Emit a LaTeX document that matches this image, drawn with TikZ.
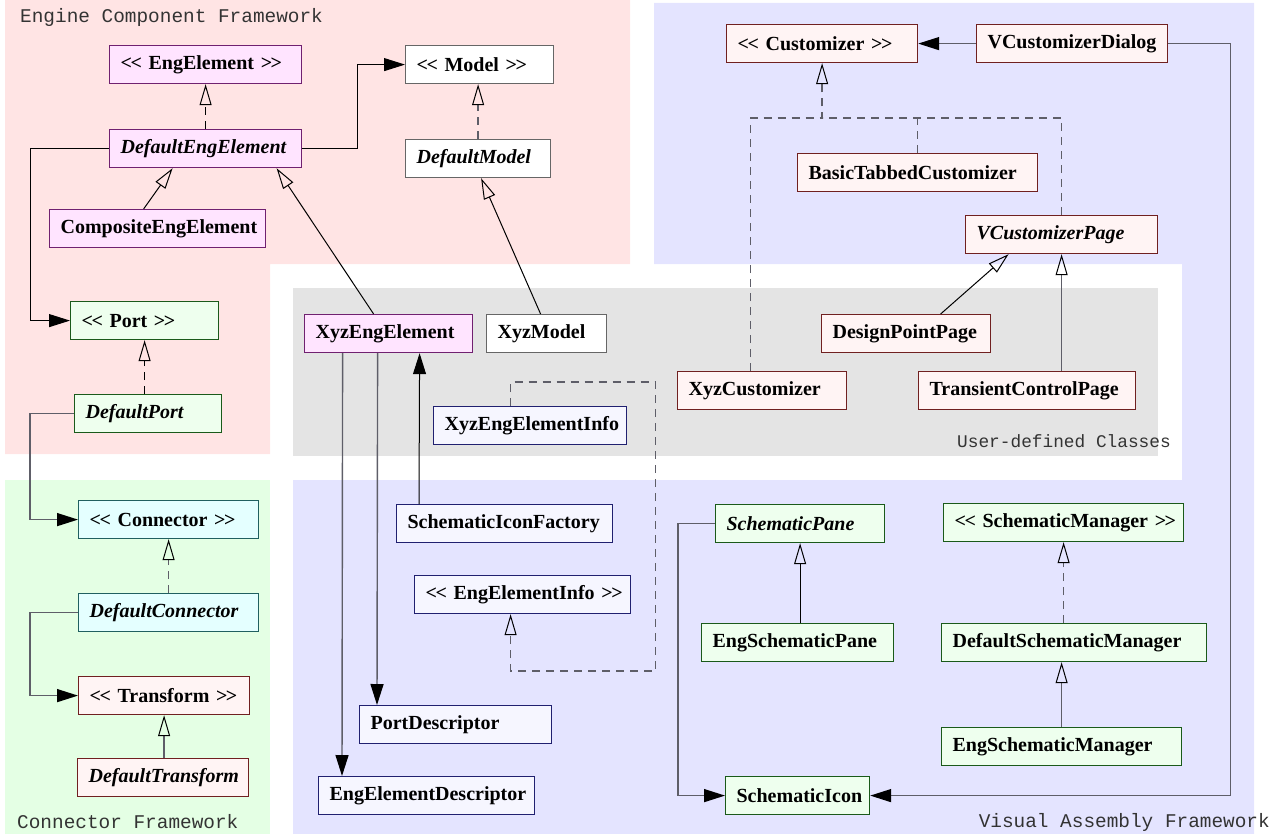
\documentclass[tikz,border=0pt]{standalone}
\usepackage{fontspec}
\setmainfont{Liberation Serif}
\setmonofont{Liberation Mono}
\usetikzlibrary{arrows.meta}

\definecolor{pinkbg}{HTML}{FFE4E4}
\definecolor{bluebg}{HTML}{E4E4FF}
\definecolor{greenbg}{HTML}{E4FFE4}
\definecolor{graybg}{HTML}{E4E4E4}
\definecolor{purpfill}{HTML}{FFE4FF}
\definecolor{purpline}{HTML}{702070}
\definecolor{grnfill}{HTML}{EEFFEE}
\definecolor{grnline}{HTML}{1A5A1A}
\definecolor{cyanfill}{HTML}{E4FFFF}
\definecolor{cyanline}{HTML}{206060}
\definecolor{redfill}{HTML}{FFF4F4}
\definecolor{redline}{HTML}{702020}
\definecolor{navyfill}{HTML}{F6F6FF}
\definecolor{navyline}{HTML}{202070}
\definecolor{linkcol}{HTML}{5E5E68}

% stereotype brackets, kept apart so they do not turn into guillemets
\newcommand{\stereo}[1]{\mbox{<\kern-1.5pt<\ #1\ >\kern-1.5pt>}}

\tikzset{
  cls/.style={draw, anchor=north west, minimum height=38pt, inner xsep=11pt, inner ysep=0pt,
    line width=1.2pt, align=left, font=\bfseries\fontsize{20}{22}\selectfont},
  abstr/.style={font=\bfseries\itshape\fontsize{20}{22}\selectfont},
  purp/.style={cls, fill=purpfill, draw=purpline},
  plain/.style={cls, fill=white, draw=black!60},
  grn/.style={cls, fill=grnfill, draw=grnline},
  cyn/.style={cls, fill=cyanfill, draw=cyanline},
  red/.style={cls, fill=redfill, draw=redline},
  navy/.style={cls, fill=navyfill, draw=navyline},
  grouplabel/.style={font=\ttfamily\fontsize{19.4}{21}\selectfont, text=black!80, inner sep=0pt},
  link/.style={draw=linkcol, line width=1.4pt},
  dark/.style={draw=black, line width=1pt},
  assoc/.style={link, -{Triangle[length=21pt, width=13pt, color=black]}},
  inh/.style={link, -{Triangle[open, length=21pt, width=12pt, color=black, line width=1pt]}},
  real/.style={inh, dash pattern=on 8pt off 6pt},
  realline/.style={link, dash pattern=on 8pt off 6pt}
}

\begin{document}
\begin{tikzpicture}[x=1pt, y=-1pt]
  \useasboundingbox (0,0) rectangle (1281,834);

  % framework areas
  \fill[pinkbg] (5,0) -- (630,0) -- (630,264) -- (270,264) -- (270,454) -- (5,454) -- cycle;
  \fill[bluebg] (654,3) -- (1254,3) -- (1254,834) -- (293,834) -- (293,480) -- (1182,480) -- (1182,264) -- (654,264) -- cycle;
  \fill[greenbg] (5,480) rectangle (270,834);
  \fill[graybg] (293,288) rectangle (1158,456);

  \node (ecf) at (20,17) [grouplabel, anchor=west] {Engine Component Framework};
  \node (udc) at (1171,441) [grouplabel, anchor=east, font=\ttfamily\fontsize{17.8}{20}\selectfont] {User-defined Classes};
  \node (cf) at (17,822) [grouplabel, anchor=west] {Connector Framework};
  \node (vaf) at (1270,822) [grouplabel, anchor=east] {Visual Assembly Framework};

  % engine component framework
  \node (engelem) at (109,45) [purp, text width=170pt] {\stereo{EngElement}};
  \node (model) at (405,45) [plain, text width=126pt] {\stereo{Model}};
  \node (defeng) at (109,129) [purp, abstr, text width=170pt] {DefaultEngElement};
  \node (defmodel) at (405,139) [plain, abstr, text width=123pt] {DefaultModel};
  \node (compeng) at (49,209) [purp, text width=194pt] {CompositeEngElement};
  \node (port) at (70,301) [grn, text width=126pt] {\stereo{Port}};
  \node (defport) at (74,394) [grn, abstr, text width=125pt] {DefaultPort};

  % user-defined classes
  \node (xyzeng) at (304,314) [purp, text width=146pt] {XyzEngElement};
  \node (xyzmodel) at (486,314) [plain, text width=98pt] {XyzModel};
  \node (xyzinfo) at (433,406) [navy, text width=171pt] {XyzEngElementInfo};
  \node (dppage) at (821,314) [red, text width=147pt] {DesignPointPage};
  \node (xyzcust) at (677,371) [red, text width=147pt] {XyzCustomizer};
  \node (tcpage) at (918,371) [red, text width=195pt] {TransientControlPage};

  % visual assembly framework
  \node (cust) at (726,24) [red, text width=169pt] {\stereo{Customizer}};
  \node (custdlg) at (976,24) [red, text width=169pt] {VCustomizerDialog};
  \node (tabcust) at (797,153) [red, text width=218pt] {BasicTabbedCustomizer};
  \node (custpage) at (965,215) [red, abstr, text width=170pt] {VCustomizerPage};
  \node (iconfac) at (396,504) [navy, text width=194pt] {SchematicIconFactory};
  \node (info) at (414,575) [navy, text width=194pt] {\stereo{EngElementInfo}};
  \node (portdesc) at (359,705) [navy, text width=170pt] {PortDescriptor};
  \node (engdesc) at (318,776) [navy, text width=194pt] {EngElementDescriptor};
  \node (spane) at (715,504) [grn, abstr, text width=147pt] {SchematicPane};
  \node (smgr) at (943,503) [grn, text width=218pt] {\stereo{SchematicManager}};
  \node (espane) at (701,623) [grn, text width=170pt] {EngSchematicPane};
  \node (dsmgr) at (941,623) [grn, text width=243pt] {DefaultSchematicManager};
  \node (esmgr) at (941,727) [grn, text width=218pt] {EngSchematicManager};
  \node (sicon) at (725,776) [grn, text width=122pt] {SchematicIcon};

  % connector framework
  \node (conn) at (78,500) [cyn, text width=158pt] {\stereo{Connector}};
  \node (defconn) at (78,593) [cyn, abstr, text width=158pt] {DefaultConnector};
  \node (transf) at (78,676) [red, text width=149pt] {\stereo{Transform}};
  \node (deftransf) at (77,758) [red, abstr, text width=149pt] {DefaultTransform};

  \draw[real, dark] (defeng.north) -- (engelem.south);
  \draw[assoc, dark] (defeng.east) -- ++(55,0) |- (model.west);
  \draw[assoc, dark] (defeng.west) -- ++(-79,0) |- (port.west);
  \draw[inh, dark] ([xshift=-14pt]compeng.north) -- ([xshift=-33pt]defeng.south);
  \draw[inh, dark] ([xshift=-15pt]xyzeng.north) -- ([xshift=71pt]defeng.south);
  \draw[real] (defmodel.north) -- (defmodel.north |- model.south);
  \draw[inh, dark] ([xshift=-6pt]xyzmodel.north) -- ([xshift=3pt]defmodel.south);
  \draw[real, dark] (defport.north -| port.south) -- (port.south);
  \draw[assoc] (defport.west) -- ++(-44,0) |- (conn.west);
  \draw[real] (defconn.north) -- (conn.south);
  \draw[assoc] (defconn.west) -- ++(-48,0) |- (transf.west);
  \draw[inh] (deftransf.north -| transf.south) -- (transf.south);

  \draw[assoc] ([xshift=-46pt]xyzeng.south) -- ([xshift=24pt]engdesc.north west);
  \draw[assoc] ([xshift=-11pt]xyzeng.south) -- ([xshift=18pt]portdesc.north west);
  \draw[assoc, dark] ([xshift=23pt]iconfac.north west) -- ([xshift=31pt]xyzeng.south);
  \draw[real] ([xshift=-19.5pt]xyzinfo.north) -- ++(0,-24) -- ++(145,0) -- ++(0,289) -| ([xshift=-12pt]info.south);

  \draw[assoc] (custdlg.west) -- (cust.east);
  \draw[real] ([xshift=-11.5pt]xyzcust.north) -- ++(0,-253) -| (cust.south);
  \draw[realline] (tabcust.north) -- ++(0,-35);
  \draw[realline] (custpage.north) -- ++(0,-97) -- ++(-239,0);
  \draw[inh, dark] ([xshift=34.5pt]dppage.north) -- ([xshift=-53pt]custpage.south);
  \draw[inh] (custpage.south |- tcpage.north) -- (custpage.south);
  \draw[assoc] (custdlg.east) -- ++(62,0) |- (sicon.east);
  \draw[assoc] (spane.west) -- ++(-37,0) |- (sicon.west);
  \draw[inh, dark] (espane.north -| spane.south) -- (spane.south);
  \draw[real] (smgr.south |- dsmgr.north) -- (smgr.south);
  \draw[inh] (esmgr.north) -- (esmgr.north |- dsmgr.south);
\end{tikzpicture}
\end{document}
